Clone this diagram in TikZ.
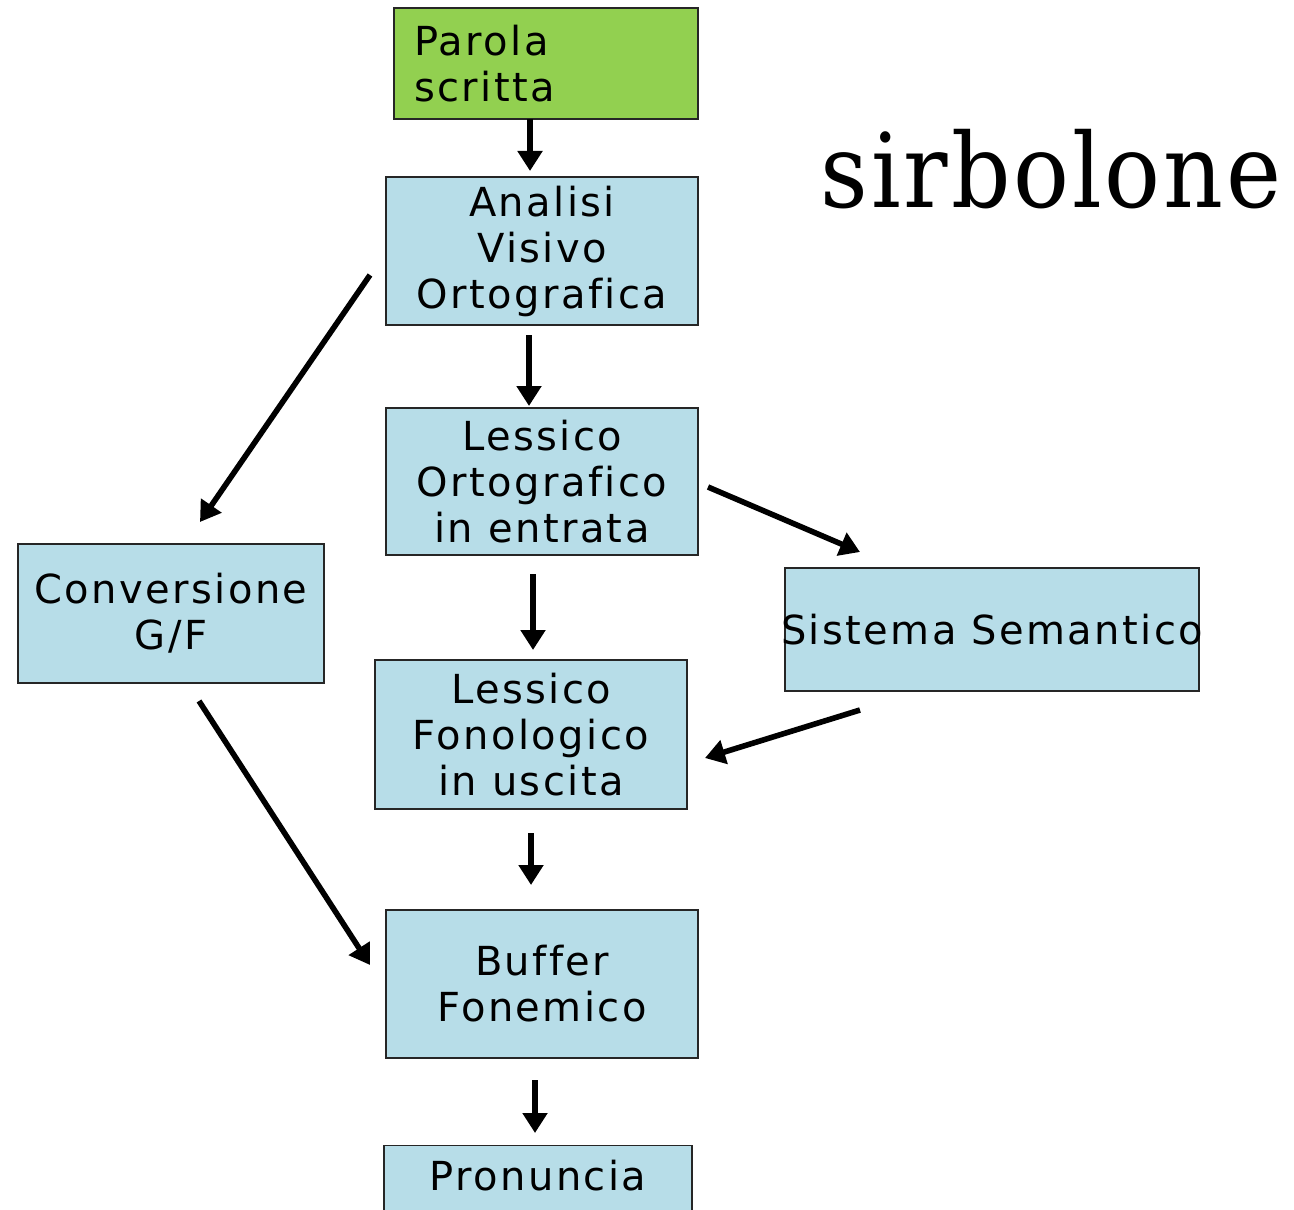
\documentclass[tikz,border=0pt]{standalone}
\usepackage{fontspec}
\setmainfont{DejaVu Sans}[LetterSpace=6,Ligatures=NoCommon]
\newfontfamily\bigserif{DejaVu Serif}[LetterSpace=3]
\usetikzlibrary{arrows.meta}
\definecolor{boxblue}{HTML}{B7DDE8}
\definecolor{boxgreen}{HTML}{92D050}
\tikzset{
  box/.style={draw=black!85, line width=0.6pt, fill=boxblue, align=center, inner sep=0pt,
    font=\fontsize{20}{23}\selectfont},
  arr/.style={line width=2.8pt, -{Triangle[length=10pt,width=12pt]}}
}
\begin{document}
\begin{tikzpicture}[x=0.5pt,y=-0.5pt]
\useasboundingbox (0,0) rectangle (1294,1209);
\node (par) [box, fill=boxgreen, minimum width=152pt, minimum height=55.5pt, text width=132pt, align=left] at (546,63.5) {Parola\\scritta};
\node (ana) [box, minimum width=156pt, minimum height=74pt] at (542,251) {Analisi\\Visivo\\Ortografica};
\node (lor) [box, minimum width=156pt, minimum height=73.5pt] at (542,481.5) {Lessico\\Ortografico\\in entrata};
\node (con) [box, minimum width=153pt, minimum height=69.5pt] at (171,613.5) {Conversione\\G/F};
\node (sem) [box, minimum width=207pt, minimum height=61.5pt] at (992,629.5) {\makebox[0pt]{Sistema Semantico}};
\node (lfo) [box, minimum width=156pt, minimum height=74.5pt] at (531,734.5) {Lessico\\Fonologico\\in uscita};
\node (buf) [box, minimum width=156pt, minimum height=74pt] at (542,984) {Buffer\\Fonemico};
\node (pro) [box, minimum width=154pt, anchor=north, inner ysep=6pt, text height=16.5pt, text depth=50pt] at (538,1145) {Pronuncia};
\node (sir) [anchor=base, inner sep=0pt, font=\bigserif\fontsize{50}{60}\selectfont] at (1051,207) {\scalebox{0.93}[1.03]{sirbolone}};
% arrow end points
\coordinate (p1) at (530,119);  \coordinate (q1) at (530,171);
\coordinate (p2) at (529,335);  \coordinate (q2) at (529,406);
\coordinate (p3) at (370,275);  \coordinate (q3) at (200,522);
\coordinate (p4) at (708,487);  \coordinate (q4) at (860,552);
\coordinate (p5) at (533,574);  \coordinate (q5) at (533,650);
\coordinate (p6) at (860,710);  \coordinate (q6) at (705,758);
\coordinate (p7) at (199,701);  \coordinate (q7) at (370,965);
\coordinate (p8) at (531,833);  \coordinate (q8) at (531,885);
\coordinate (p9) at (535,1080); \coordinate (q9) at (535,1133);
\foreach \i in {1,...,9} {\draw[arr] (p\i) -- (q\i);}
\end{tikzpicture}
\end{document}
